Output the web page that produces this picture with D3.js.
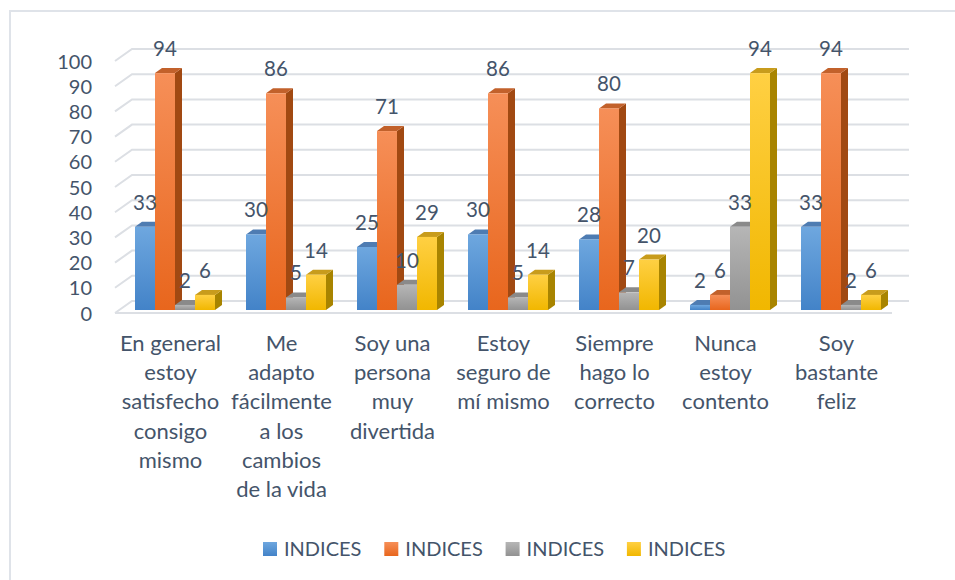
<!DOCTYPE html>
<html>
<head>
<meta charset="utf-8">
<script src="https://cdn.jsdelivr.net/npm/d3@7"></script>
<style>
  html, body { margin: 0; padding: 0; background: #ffffff; }
  svg { display: block; }
  text { font-family: Lato, "Open Sans", sans-serif; fill: #44546A; }
</style>
</head>
<body>
<svg id="chart" width="955" height="580"></svg>
<script>
// ---- data ----
const categories = [
  ["En general", "estoy", "satisfecho", "consigo", "mismo"],
  ["Me", "adapto", "fácilmente", "a los", "cambios", "de la vida"],
  ["Soy una", "persona", "muy", "divertida"],
  ["Estoy", "seguro de", "mí mismo"],
  ["Siempre", "hago lo", "correcto"],
  ["Nunca", "estoy", "contento"],
  ["Soy", "bastante", "feliz"]
];
const seriesNames = ["INDICES", "INDICES", "INDICES", "INDICES"];
const series1 = [33, 30, 25, 30, 28, 2, 33];
const series2 = [94, 86, 71, 86, 80, 6, 94];
const series3 = [2, 5, 10, 5, 7, 33, 2];
const series4 = [6, 14, 29, 14, 20, 94, 6];
const yTicks = [0, 10, 20, 30, 40, 50, 60, 70, 80, 90, 100];

const seriesValues = [series1, series2, series3, series4];

// ---- styles ----
const palette = [
  { top: "#6ea7df", bottom: "#4383c8", side: "#3b679b", cap: "#4e7cb2" },
  { top: "#f68f58", bottom: "#e8661d", side: "#a14912", cap: "#c2612b" },
  { top: "#b6b6b6", bottom: "#929292", side: "#727272", cap: "#8a8a8a" },
  { top: "#ffd043", bottom: "#f1b700", side: "#a88400", cap: "#c89c1c" }
];

const svg = d3.select("#chart");
const defs = svg.append("defs");
palette.forEach((p, i) => {
  const g = defs.append("linearGradient")
    .attr("id", "grad" + i).attr("x1", 0).attr("y1", 0).attr("x2", 0).attr("y2", 1);
  g.append("stop").attr("offset", "0%").attr("stop-color", p.top);
  g.append("stop").attr("offset", "100%").attr("stop-color", p.bottom);
});

// chart border (extends past right/bottom edge like the reference)
svg.append("rect")
  .attr("x", 10).attr("y", 11).attr("width", 1000).attr("height", 700)
  .attr("fill", "none").attr("stroke", "#dfe3e9").attr("stroke-width", 2);

// ---- scales ----
const plotLeft = 115, plotRight = 892;
const depthX = 17, depthY = -12;       // back wall offset
const barShiftX = 4.5, barShiftY = -3; // bars sit slightly behind front edge
const barDX = 7, barDY = -5;           // bar depth

const x0 = d3.scaleBand().domain(d3.range(categories.length)).range([plotLeft, plotRight]).padding(0);
const x1 = d3.scaleBand().domain(d3.range(seriesValues.length)).range([15.5, 95.5]).padding(0);
const y = d3.scaleLinear().domain([0, 100]).range([313, 61]);

// ---- gridlines (on left wall + back wall) ----
const grid = svg.append("g");
yTicks.forEach(t => {
  const yf = y(t);
  grid.append("path")
    .attr("d", `M${plotLeft},${yf} L${plotLeft + depthX},${yf + depthY} L${plotRight + depthX},${yf + depthY}`)
    .attr("fill", "none").attr("stroke", "#dcdfe4").attr("stroke-width", 2);
});
// floor front edge
grid.append("line")
  .attr("x1", plotLeft).attr("x2", plotRight)
  .attr("y1", y(0)).attr("y2", y(0))
  .attr("stroke", "#dcdfe4").attr("stroke-width", 2);

// ---- y axis labels ----
const yAxis = d3.axisLeft(y).tickValues(yTicks).tickSize(0).tickPadding(0);
const yg = svg.append("g").attr("transform", "translate(92,0)").call(yAxis);
yg.select(".domain").remove();
yg.selectAll("text")
  .attr("font-size", 20).attr("font-family", "Lato, sans-serif")
  .attr("fill", "#44546A").attr("dy", "0.35em");

// ---- bars ----
const bars = svg.append("g");
const base = y(0) + barShiftY;
categories.forEach((cat, ci) => {
  seriesValues.forEach((vals, si) => {
    const v = vals[ci];
    const p = palette[si];
    const bx = x0(ci) + x1(si) + barShiftX;
    const by = y(v) + barShiftY;
    const w = x1.bandwidth();
    const g = bars.append("g");
    // side
    g.append("path")
      .attr("d", `M${bx + w},${by} L${bx + w + barDX},${by + barDY} L${bx + w + barDX},${base + barDY} L${bx + w},${base} Z`)
      .attr("fill", p.side);
    // top
    g.append("path")
      .attr("d", `M${bx},${by} L${bx + barDX},${by + barDY} L${bx + w + barDX},${by + barDY} L${bx + w},${by} Z`)
      .attr("fill", p.cap);
    // front
    g.append("rect")
      .attr("x", bx).attr("y", by).attr("width", w).attr("height", Math.max(0, base - by))
      .attr("fill", `url(#grad${si})`);
  });
});

// ---- data labels ----
const labels = svg.append("g");
categories.forEach((cat, ci) => {
  seriesValues.forEach((vals, si) => {
    const v = vals[ci];
    const bx = x0(ci) + x1(si) + barShiftX;
    const by = y(v) + barShiftY;
    labels.append("text")
      .attr("x", bx + x1.bandwidth() / 2)
      .attr("y", by - 17)
      .attr("text-anchor", "middle")
      .attr("font-size", 20.5)
      .text(v);
  });
});

// ---- category labels ----
const catG = svg.append("g");
categories.forEach((lines, ci) => {
  const t = catG.append("text")
    .attr("x", x0(ci) + x0.bandwidth() / 2)
    .attr("y", 350)
    .attr("text-anchor", "middle")
    .attr("font-size", 22);
  lines.forEach((ln, li) => {
    t.append("tspan")
      .attr("x", x0(ci) + x0.bandwidth() / 2)
      .attr("y", 351 + li * 29.2)
      .text(ln);
  });
});

// ---- legend ----
const legend = svg.append("g");
seriesNames.forEach((name, i) => {
  const lx = 263 + i * 121.3;
  legend.append("rect")
    .attr("x", lx).attr("y", 542).attr("width", 14).attr("height", 14)
    .attr("fill", `url(#grad${i})`);
  legend.append("text")
    .attr("x", lx + 21).attr("y", 556)
    .attr("font-size", 20)
    .text(name);
});
</script>
</body>
</html>
